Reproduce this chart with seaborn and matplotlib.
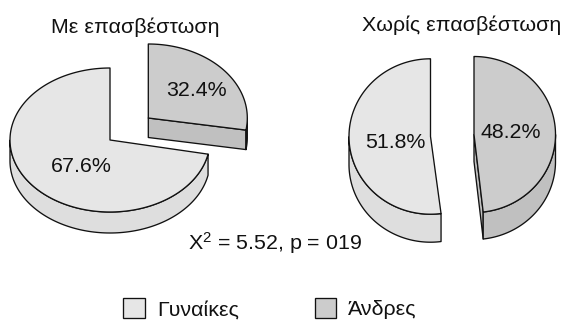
import numpy as np
import matplotlib
matplotlib.use("Agg")
import matplotlib.pyplot as plt
from matplotlib.patches import Patch
import seaborn as sns

# Percentages per group
groups = ["Με επασβέστωση", "Χωρίς επασβέστωση"]
categories = ["Γυναίκες", "Άνδρες"]
women = [67.6, 51.8]
men = [32.4, 48.2]
stat_text = r"X$^{2}$ = 5.52, p = 019"

sns.set_theme(style="white")
plt.rcParams["font.family"] = ["Liberation Sans", "DejaVu Sans"]
plt.rcParams["mathtext.default"] = "regular"

top_colors = sns.color_palette(["#e6e6e6", "#cccccc"])
side_colors = sns.color_palette(["#dedede", "#c0c0c0"])
EDGE = "#111111"
LW = 0.95
FS = 15.4


def squash(theta, k):
    """Foreshorten a disc angle (radians) for the tilted view."""
    return np.arctan2(k * np.sin(theta), np.cos(theta))


def wedge(ax, apex, rx, ry, start, sweep, k, depth, top, side, cut_face=False):
    """Draw one raised pie slice; start and sweep are degrees, counter-clockwise or clockwise by sign."""
    theta = np.radians(np.linspace(start, start + sweep, 400))
    phi = np.unwrap(squash(theta, k))
    x = apex[0] + rx * np.cos(phi)
    y = apex[1] - ry * np.sin(phi)

    # cut face seen from the front
    if cut_face:
        ax.fill([apex[0], x[-1], x[-1], apex[0]],
                [apex[1], y[-1], y[-1] + depth, apex[1] + depth],
                fc=side, ec=EDGE, lw=LW, zorder=2, joinstyle="round")
    # outer wall: only the near half of the rim
    near = np.sin(phi) <= 0
    if near.any():
        wx, wy = x[near], y[near]
        ax.fill(np.r_[wx, wx[::-1]], np.r_[wy, wy[::-1] + depth],
                fc=side, ec=EDGE, lw=LW, zorder=2, joinstyle="round")
    # top surface
    ax.fill(np.r_[apex[0], x], np.r_[apex[1], y],
            fc=top, ec=EDGE, lw=LW, zorder=3, joinstyle="round")


def sweep_deg(share):
    return 360 * share / 100


fig = plt.figure(figsize=(5.63, 3.2), dpi=100)
ax = fig.add_axes([0, 0, 1, 1])
ax.set_xlim(0, 563)
ax.set_ylim(320, 0)
ax.axis("off")

# left pie: women sweep counter-clockwise from 12 o'clock, men clockwise
wedge(ax, (110, 140), 100, 72, 90, sweep_deg(women[0]), 0.40, 21, top_colors[0], side_colors[0])
wedge(ax, (148.3, 118), 99, 74, 90, -sweep_deg(men[0]), 0.33, 19.5, top_colors[1], side_colors[1], cut_face=True)
# right pie
wedge(ax, (430.5, 136.5), 81.5, 77.7, 90, sweep_deg(women[1]), 0.87, 28, top_colors[0], side_colors[0])
wedge(ax, (474, 134.5), 81.5, 78, 90, -sweep_deg(men[1]), 1.0, 27, top_colors[1], side_colors[1], cut_face=True)

txt = dict(ha="center", va="center", fontsize=FS, color="#111111", zorder=5)
ax.text(135.5, 27, groups[0], **txt)
ax.text(462, 25.5, groups[1], **txt)
ax.text(81, 166, f"{women[0]}%", **txt)
ax.text(196, 91, f"{men[0]}%", **txt)
ax.text(395, 143, f"{women[1]}%", **txt)
ax.text(511, 132, f"{men[1]}%", **txt)
ax.text(275, 243, stat_text, **txt)

handles = [Patch(fc=top_colors[i], ec=EDGE, lw=LW, label=categories[i]) for i in range(2)]
ax.legend(handles=handles, ncols=2, frameon=False, loc="lower left",
          bbox_to_anchor=(123 / 563, 0.002), borderpad=0, borderaxespad=0,
          fontsize=FS, handlelength=1.02, handleheight=1.0, handletextpad=0.56,
          columnspacing=3.55, labelcolor="#111111")

fig.savefig("out.png", dpi=100)
